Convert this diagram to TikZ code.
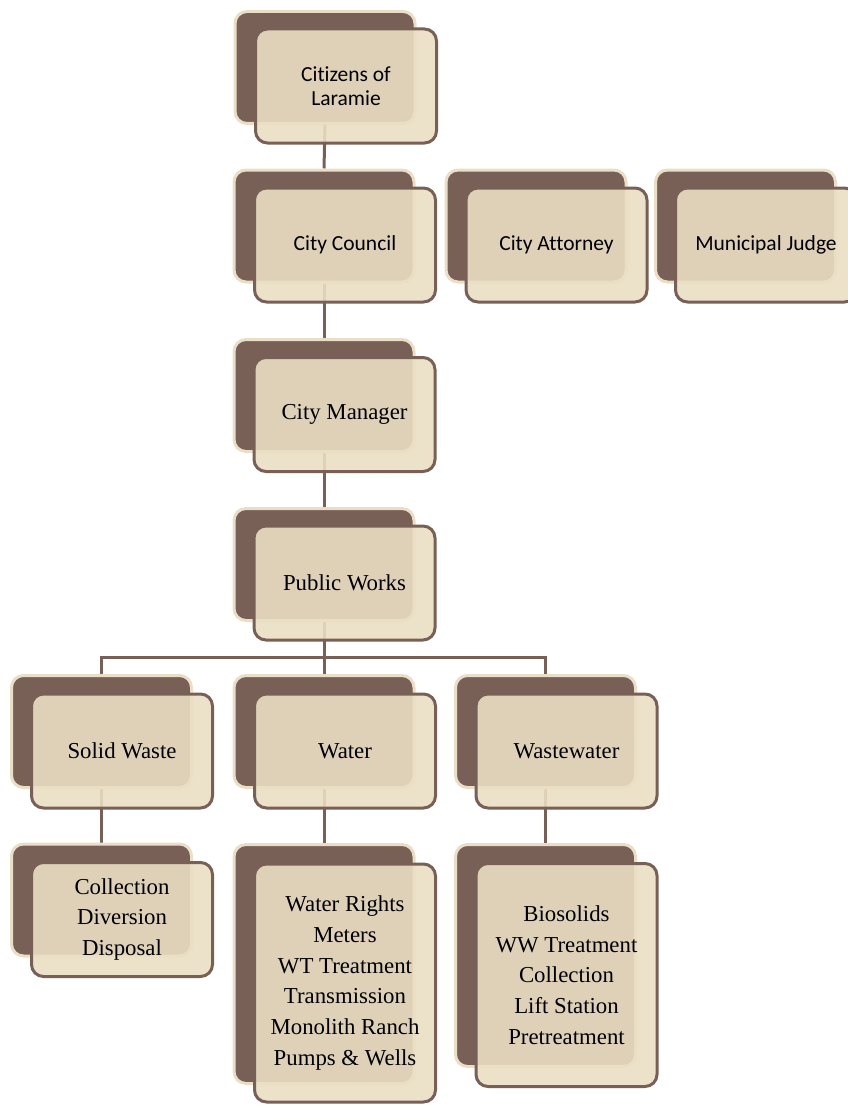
\documentclass[tikz,border=0pt]{standalone}
\usepackage{fontspec}
\setmainfont{Liberation Serif}
\newfontfamily\calibri[Ligatures=NoCommon]{Carlito}
\usetikzlibrary{backgrounds}
\definecolor{bark}{RGB}{121,96,86}
\definecolor{sand}{RGB}{234,223,198}
\definecolor{cream}{RGB}{234,222,195}
\tikzset{
  backbox/.style={draw=sand, fill=bark, line width=3pt, rounded corners=12pt,
    minimum width=180pt, minimum height=112pt, inner sep=0pt},
  frontbox/.style={draw=bark, fill=cream, fill opacity=0.9, text opacity=1,
    line width=3pt, rounded corners=12pt, minimum width=181pt,
    minimum height=114pt, inner sep=0pt, align=center},
  sansbox/.style={frontbox, font=\calibri\fontsize{21.5}{24}\selectfont},
  serifbox/.style={frontbox, font=\fontsize{22.8}{30.7}\selectfont},
  link/.style={draw=bark, line width=3pt},
}
\begin{document}
\begin{tikzpicture}[x=1pt, y=-1pt]
\clip (0,0) rectangle (848,1105);
% top of the chart
\node[backbox] (citizensB) at (325,67.5) {};
\node[sansbox] (citizens) at (346,86) {Citizens of\\Laramie};
\node[backbox] (councilB) at (324,226) {};
\node[sansbox] (council) at (345,245) {City Council};
\node[backbox] (attorneyB) at (536,226) {};
\node[sansbox] (attorney) at (556.5,245) {City Attorney};
\node[backbox] (judgeB) at (745.5,226) {};
\node[sansbox] (judge) at (766,245) {Municipal Judge};
\node[backbox] (managerB) at (324,395.5) {};
\node[serifbox] (manager) at (344.5,414.5) {City Manager};
\node[backbox] (worksB) at (324,564.5) {};
\node[serifbox] (works) at (344.5,583) {Public Works};
% divisions
\node[backbox] (solidB) at (101.5,731.5) {};
\node[serifbox] (solid) at (122,751) {Solid Waste};
\node[backbox] (waterB) at (324,731.5) {};
\node[serifbox] (water) at (345,751) {Water};
\node[backbox] (wasteB) at (545.5,731.5) {};
\node[serifbox] (waste) at (566.5,751) {Wastewater};
% sections
\node[backbox] (solidlistB) at (101.5,900) {};
\node[serifbox] (solidlist) at (122,919.5) {Collection\\Diversion\\Disposal};
\node[backbox, minimum height=239pt] (waterlistB) at (324,964) {};
\node[serifbox, minimum height=238pt] (waterlist) at (345,983)
  {Water Rights\\Meters\\WT Treatment\\Transmission\\Monolith Ranch\\Pumps \& Wells};
\node[backbox, minimum height=222pt] (wastelistB) at (545.5,955.5) {};
\node[serifbox, minimum height=223pt] (wastelist) at (566.5,975)
  {Biosolids\\WW Treatment\\Collection\\Lift Station\\Pretreatment};
\coordinate (bus) at (324,657);
\begin{scope}[on background layer]
\draw[link] (citizensB.south) -- (councilB.north);
\draw[link] (councilB.south) -- (managerB.north);
\draw[link] (managerB.south) -- (worksB.north);
\draw[link] (worksB.south) -- (waterB.north);
\draw[link] (solidB.north) |- (bus) -| (wasteB.north);
\draw[link] (solidB.south) -- (solidlistB.north);
\draw[link] (waterB.south) -- (waterlistB.north);
\draw[link] (wasteB.south) -- (wastelistB.north);
\end{scope}
\end{tikzpicture}
\end{document}
